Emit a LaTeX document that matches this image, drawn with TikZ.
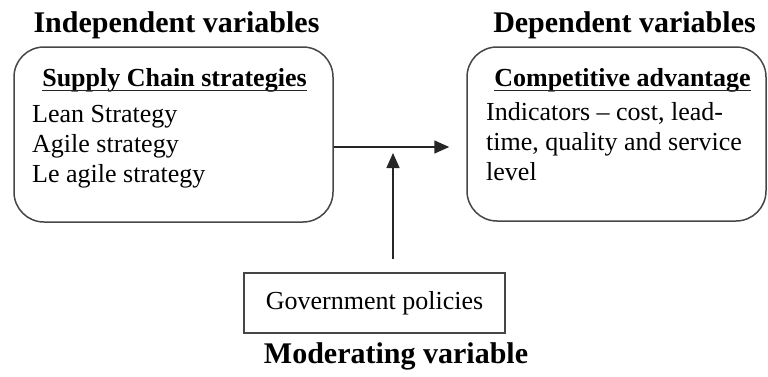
\documentclass[tikz,border=0pt]{standalone}
\usepackage{fontspec}
\setmainfont{Liberation Serif}
\usetikzlibrary{arrows.meta,positioning}
\definecolor{FrameGrey}{RGB}{70,70,70}
\tikzset{
  varbox/.style={draw=FrameGrey,rounded corners=30pt,line width=1.5pt},
  modbox/.style={draw=FrameGrey,line width=1.4pt,minimum width=261pt,
    minimum height=60pt,font=\fontsize{26}{30}\selectfont},
  heading/.style={font=\bfseries\fontsize{30}{34}\selectfont,inner sep=0pt},
  boxhead/.style={font=\bfseries\fontsize{26}{30}\selectfont,inner sep=0pt},
  itemlist/.style={font=\fontsize{26}{30}\selectfont,align=left,inner sep=0pt},
  underline/.style={line width=1.6pt,black!85},
  arrow/.style={-{Triangle[length=15pt,width=13pt]},line width=1.5pt,black!85}
}

\begin{document}
\begin{tikzpicture}[x=1pt,y=-1pt]
      \useasboundingbox (0,0) rectangle (768,376);
      % the two variable boxes
      \node[varbox,minimum width=319pt,minimum height=175pt] (strat) at (173.5,134.5) {};
      \node[varbox,minimum width=299pt,minimum height=174pt] (adv) at (616.5,134) {};
      \node[modbox] (gov) at (374.5,303) {Government policies};
      % titles above and below
      \node[heading,anchor=base] (indep) at (176.5,32) {Independent variables};
      \node[heading,anchor=base] (dep) at (624.5,32) {Dependent variables};
      \node[heading,anchor=base] (mod) at (396,363) {Moderating variable};
      % box contents (base = last line)
      \node[boxhead,anchor=base] (scs) at (174.5,86.5) {Supply Chain strategies};
      \node[itemlist,anchor=base west] (kinds) at (32,182) {Lean Strategy\\Agile strategy\\Le agile strategy};
      \node[boxhead,anchor=base] (ca) at (622.5,86.5) {Competitive advantage};
      \node[itemlist,anchor=base west] (ind) at (486,180) {Indicators -- cost, lead-\\time, quality and service\\level};
      \draw[underline] ([yshift=-4pt]scs.base west) -- ([yshift=-4pt]scs.base east);
      \draw[underline] ([yshift=-4pt]ca.base west) -- ([yshift=-4pt]ca.base east);
      % connectors
      \coordinate (join) at (393,147);
      \draw[arrow,shorten >=17pt] (strat.east |- join) -- (adv.west |- join);
      \draw[arrow,shorten <=13pt,shorten >=6pt] (gov.north -| join) -- (join);
    \end{tikzpicture}
\end{document}
